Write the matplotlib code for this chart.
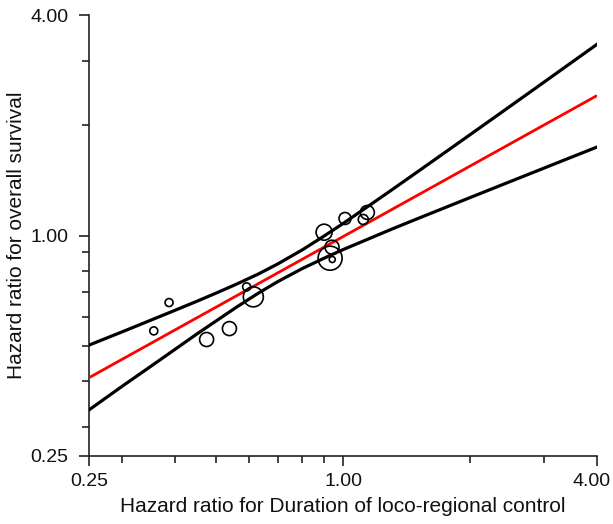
import matplotlib
matplotlib.use("Agg")
import matplotlib.pyplot as plt
import matplotlib.transforms as mtransforms
from matplotlib.ticker import FixedLocator, NullFormatter

# Study-level data points (hazard ratios) and relative weights (circle radius, px)
hr_lrc = [0.387, 0.356, 0.475, 0.538, 0.591, 0.613, 0.902, 1.011, 1.117, 1.142, 0.942, 0.932, 0.943]
hr_os = [0.656, 0.549, 0.520, 0.557, 0.724, 0.680, 1.021, 1.113, 1.106, 1.156, 0.929, 0.867, 0.860]
weight = [4, 4, 7, 7, 4, 10, 8, 6, 5, 7, 7, 12, 3]

# Regression line (end points) and confidence band
fit_x = [0.25, 4.00]
fit_y = [0.409, 2.41]
band_x = [0.25, 0.30, 0.35, 0.40, 0.45, 0.50, 0.56, 0.63, 0.70, 0.80, 0.90,
          1.00, 1.15, 1.30, 1.50, 1.75, 2.00, 2.40, 2.80, 3.30, 4.00]
band_upper = [0.502, 0.546, 0.587, 0.625, 0.661, 0.696, 0.737, 0.785, 0.836, 0.913, 0.995,
              1.078, 1.204, 1.328, 1.491, 1.690, 1.884, 2.187, 2.481, 2.840, 3.327]
band_lower = [0.334, 0.388, 0.439, 0.489, 0.538, 0.584, 0.638, 0.696, 0.748, 0.812, 0.866,
              0.915, 0.979, 1.039, 1.111, 1.193, 1.269, 1.380, 1.481, 1.597, 1.744]

major_ticks = [0.25, 1.00, 4.00]
major_labels = ["0.25", "1.00", "4.00"]
minor_ticks = [0.3, 0.4, 0.5, 0.6, 0.7, 0.8, 0.9, 2.0, 3.0]

plt.rcParams['font.family'] = ['Liberation Sans', 'DejaVu Sans']

fig = plt.figure(figsize=(6.13, 5.24), dpi=100)
ax = fig.add_axes([89/613, 1-456/524, (597-89)/613, (456-15)/524])
ax.set_xscale('log')
ax.set_yscale('log')
ax.set_xlim(0.25, 4.0)
ax.set_ylim(0.25, 4.0)

ax.plot(band_x, band_upper, color='black', lw=2.3, solid_joinstyle='round', zorder=3)
ax.plot(band_x, band_lower, color='black', lw=2.3, solid_joinstyle='round', zorder=3)
ax.plot(fit_x, fit_y, color='#ff0000', lw=2.0, solid_capstyle='butt', zorder=4)

sizes = [(2 * w * 0.72) ** 2 for w in weight]
ax.scatter(hr_lrc, hr_os, s=sizes, facecolors='none', edgecolors='black', linewidths=1.2, zorder=5, clip_on=False)

for s in ['top', 'right']:
    ax.spines[s].set_visible(False)
for s in ['left', 'bottom']:
    ax.spines[s].set_linewidth(1.2)
    ax.spines[s].set_color('#222222')

for axis in (ax.xaxis, ax.yaxis):
    axis.set_major_locator(FixedLocator(major_ticks))
    axis.set_minor_locator(FixedLocator(minor_ticks))
    axis.set_minor_formatter(NullFormatter())
ax.set_xticklabels(major_labels)
ax.set_yticklabels(major_labels)
ax.tick_params(which='major', direction='out', length=7, width=1.2, labelsize=14, color='#222222', labelcolor='#111111')
ax.tick_params(which='minor', direction='out', length=5, width=1.2, color='#222222')
ax.tick_params(axis='x', which='major', pad=5)
ax.tick_params(axis='y', which='major', pad=8)

# keep the rightmost x tick label inside the canvas
last = ax.get_xticklabels()[-1]
last.set_transform(last.get_transform() + mtransforms.ScaledTranslation(-5/100, 0, fig.dpi_scale_trans))

ax.set_xlabel("Hazard ratio for Duration of loco-regional control", fontsize=15, labelpad=5, color='#111111')
ax.set_ylabel("Hazard ratio for overall survival", fontsize=15, labelpad=3, color='#111111')

fig.savefig("out.png", dpi=100)
